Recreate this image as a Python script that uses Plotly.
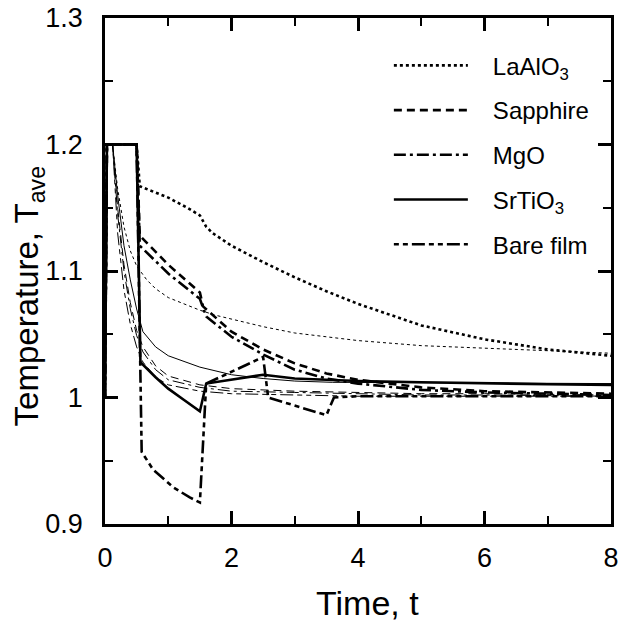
import plotly.graph_objects as go

# ---- data ----
la_t = [0, 0.03, 0.5, 0.55, 0.7, 1.0, 1.3, 1.5, 1.6, 1.7, 2.0, 2.5, 3.0, 3.5, 4.0, 5.0, 6.0, 7.0, 8.0]
la_T = [1.0, 1.2, 1.2, 1.167, 1.164, 1.158, 1.150, 1.144, 1.135, 1.130, 1.120, 1.107, 1.095, 1.084, 1.074, 1.057, 1.046, 1.038, 1.033]
la_thin_t = [0.12, 0.2, 0.3, 0.4, 0.5, 0.66, 0.8, 1.0, 1.25, 1.5, 1.75, 2.0, 2.5, 3.0, 4.0, 5.0, 6.0, 7.0, 8.0]
la_thin_T = [1.2, 1.165, 1.135, 1.116, 1.104, 1.093, 1.086, 1.079, 1.074, 1.069, 1.065, 1.062, 1.056, 1.051, 1.045, 1.041, 1.039, 1.037, 1.035]

sa_t = [0, 0.03, 0.5, 0.55, 1.0, 1.5, 1.55, 2.0, 2.5, 3.0, 3.5, 4.0, 5.0, 6.0, 8.0]
sa_T = [1.0, 1.2, 1.2, 1.128, 1.105, 1.083, 1.072, 1.052, 1.038, 1.027, 1.019, 1.014, 1.008, 1.005, 1.003]
sa_thin_t = [0.12, 0.2, 0.3, 0.4, 0.5, 0.6, 0.8, 1.0, 1.5, 2.0, 3.0, 4.0, 5.0, 6.0, 8.0]
sa_thin_T = [1.2, 1.15, 1.105, 1.075, 1.053, 1.040, 1.025, 1.017, 1.010, 1.007, 1.005, 1.004, 1.003, 1.003, 1.002]

mg_t = [0, 0.03, 0.5, 0.55, 1.0, 1.5, 1.6, 2.0, 2.5, 3.0, 3.5, 4.0, 5.0, 6.0, 8.0]
mg_T = [1.0, 1.2, 1.2, 1.120, 1.098, 1.078, 1.064, 1.048, 1.034, 1.022, 1.015, 1.011, 1.006, 1.004, 1.002]
mg_thin_t = [0.12, 0.2, 0.3, 0.4, 0.5, 0.6, 0.8, 1.0, 1.5, 2.0, 3.0, 4.0, 5.0, 6.0, 8.0]
mg_thin_T = [1.2, 1.145, 1.10, 1.07, 1.049, 1.036, 1.022, 1.014, 1.008, 1.005, 1.004, 1.003, 1.002, 1.002, 1.001]

sr_t = [0, 0.03, 0.5, 0.56, 0.8, 1.0, 1.25, 1.5, 1.6, 2.0, 2.5, 3.0, 4.0, 5.0, 6.0, 7.0, 8.0]
sr_T = [1.0, 1.2, 1.2, 1.028, 1.016, 1.007, 0.998, 0.989, 1.011, 1.014, 1.018, 1.015, 1.013, 1.012, 1.011, 1.0105, 1.010]
sr_thin_t = [0.12, 0.2, 0.3, 0.4, 0.5, 0.6, 0.8, 1.0, 1.5, 2.0, 2.5, 3.0, 3.6, 5.0, 6.0, 8.0]
sr_thin_T = [1.2, 1.16, 1.12, 1.093, 1.07, 1.052, 1.040, 1.033, 1.024, 1.018, 1.015, 1.013, 1.012, 1.0115, 1.0112, 1.011]

bf_t = [0, 0.03, 0.5, 0.58, 0.76, 1.08, 1.34, 1.5, 1.6, 2.5, 2.58, 3.5, 3.62, 4.0, 5.0, 6.0, 8.0]
bf_T = [1.0, 1.2, 1.2, 0.957, 0.943, 0.929, 0.921, 0.917, 1.011, 1.032, 1.0, 0.986, 1.0, 1.001, 1.001, 1.001, 1.001]
bf_thin_t = [0.12, 0.2, 0.3, 0.4, 0.5, 0.6, 0.8, 1.0, 1.5, 2.0, 3.0, 4.0, 6.0, 8.0]
bf_thin_T = [1.2, 1.13, 1.085, 1.058, 1.040, 1.028, 1.016, 1.010, 1.005, 1.003, 1.002, 1.001, 1.001, 1.001]

names = ["LaAlO<sub>3</sub>", "Sapphire", "MgO", "SrTiO<sub>3</sub>", "Bare film"]
dashes = ["dot", "8px,5px", "12px,4px,3px,4px", "solid", "5px,4px,5px,4px,13px,4px"]
thick = [(la_t, la_T), (sa_t, sa_T), (mg_t, mg_T), (sr_t, sr_T), (bf_t, bf_T)]
thin = [(la_thin_t, la_thin_T), (sa_thin_t, sa_thin_T), (mg_thin_t, mg_thin_T),
        (sr_thin_t, sr_thin_T), (bf_thin_t, bf_thin_T)]

y_tickvals = [0.9, 1.0, 1.1, 1.2, 1.3]
y_ticktext = ["0.9", "1", "1.1", "1.2", "1.3"]
x_tickvals = [0, 2, 4, 6, 8]
x_title = "Time, t"
y_title = "Temperature, T<sub>ave</sub>"

FONT = "Liberation Sans, Arial"
NB = "\u00a0" * 3

fig = go.Figure()
for i, name in enumerate(names):
    fig.add_trace(go.Scatter(x=thin[i][0], y=thin[i][1], mode="lines", showlegend=False,
                             line=dict(color="black", width=1, dash=dashes[i]), hoverinfo="skip"))
for i, name in enumerate(names):
    fig.add_trace(go.Scatter(x=thick[i][0], y=thick[i][1], mode="lines", name=NB + name,
                             legendgroup=f"g{i}",
                             line=dict(color="black", width=2.6, dash=dashes[i])))

axis_common = dict(showline=True, linecolor="black", linewidth=2.5, mirror="ticks",
                   ticks="inside", ticklen=13, tickwidth=2.5, tickcolor="black",
                   showgrid=False, zeroline=False, automargin=False,
                   ticklabeloverflow="allow",
                   tickfont=dict(family=FONT, size=27, color="black"))

fig.update_xaxes(range=[0, 8], tickvals=x_tickvals, ticktext=[str(v) for v in x_tickvals],
                 minor=dict(tickvals=[1, 3, 5, 7], ticks="inside", ticklen=8, tickwidth=2, tickcolor="black"),
                 ticklabelstandoff=8, **axis_common)
fig.update_yaxes(range=[0.9, 1.3], tickvals=y_tickvals, ticktext=y_ticktext,
                 minor=dict(tickvals=[0.95, 1.05, 1.15, 1.25], ticks="inside", ticklen=8, tickwidth=2, tickcolor="black"),
                 ticklabelstandoff=14, **axis_common)

fig.add_annotation(text=x_title, xref="paper", yref="paper", x=0.518, y=-0.156,
                   xanchor="center", yanchor="middle", showarrow=False,
                   font=dict(family=FONT, size=34, color="black"))
fig.add_annotation(text=y_title, xref="paper", yref="paper", x=-0.150, y=0.45,
                   xanchor="center", yanchor="middle", showarrow=False, textangle=-90,
                   font=dict(family=FONT, size=33, color="black"))

fig.update_layout(
    width=621, height=621,
    margin=dict(l=105, r=10, t=18, b=97),
    plot_bgcolor="white", paper_bgcolor="white",
    legend=dict(x=0.561, y=0.950, xanchor="left", yanchor="top", bgcolor="rgba(0,0,0,0)",
                font=dict(family=FONT, size=24, color="black"),
                itemwidth=74, tracegroupgap=10.5, traceorder="grouped"),
)
fig.write_html("out.html", config={"displayModeBar": False},
               post_script="document.body.style.margin='0';document.body.style.overflow='hidden';")
